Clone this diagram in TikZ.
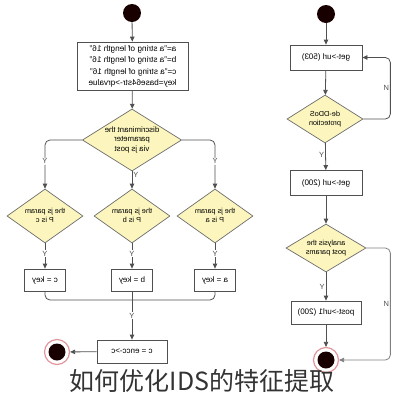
\documentclass[tikz,border=0pt]{standalone}
\usepackage{fontspec}
\usepackage{graphicx}
\setmainfont{Liberation Sans}
\newfontfamily\cjk{Noto Sans CJK SC}
\usetikzlibrary{shapes.geometric,arrows.meta,positioning}

\definecolor{choicefill}{RGB}{252,246,190}
\definecolor{linegray}{RGB}{80,80,80}
\definecolor{ringpink}{RGB}{226,150,155}

% mirrored text, as the reference prints it
\newcommand{\mir}[1]{\reflectbox{\begin{tabular}{@{}c@{}}#1\end{tabular}}}
\newcommand{\mirl}[1]{\reflectbox{\begin{tabular}{@{}l@{}}#1\end{tabular}}}

\tikzset{
  box/.style={draw=linegray, fill=white, line width=0.8pt, inner sep=1pt,
    minimum width=72pt, minimum height=25pt, font=\fontsize{8}{10}\selectfont},
  choice/.style={diamond, draw=gray!85!black, fill=choicefill, line width=0.7pt,
    inner sep=0pt, aspect=1.4, font=\fontsize{7.3}{8.8}\selectfont},
  startdot/.style={circle, fill=black!90!red, minimum size=18pt, inner sep=0pt},
  enddot/.style={circle, draw=ringpink, line width=1.2pt, fill=white,
    minimum size=25pt, inner sep=0pt,
    path picture={\fill[black!90!red] (path picture bounding box.center) circle (8.5pt);}},
  flow/.style={draw=linegray, line width=0.8pt, -{Triangle[length=5pt,width=4.5pt]}},
  line/.style={draw=linegray, line width=0.8pt},
  ylbl/.style={font=\fontsize{7.5}{8}\selectfont, text=black!70, inner sep=1pt},
}

\begin{document}
\begin{tikzpicture}[x=1pt,y=-1pt]
\useasboundingbox (0,0) rectangle (405,400);

% left chart
\node[startdot] (ls) at (132,13) {};
\node[box, minimum width=111pt, minimum height=48pt,
  font=\fontsize{8.2}{11.5}\selectfont] (vars) at (132.5,66)
  {\mirl{a="a string of length 16"\\b="a string of length 16"\\c="a string of length 16"\\key=base64str->qrvalue}};
\node[choice, minimum width=96pt, minimum height=60pt, aspect=1.6,
  font=\fontsize{7.8}{9.3}\selectfont] (disc) at (132,140)
  {\mir{discriminant the\\parameter\\via js post}};
\node[choice, minimum width=76pt, minimum height=54pt] (pc) at (45,216) {\mir{the js param\\P is c}};
\node[choice, minimum width=76pt, minimum height=54pt] (pb) at (132,216) {\mir{the js param\\P is b}};
\node[choice, minimum width=76pt, minimum height=54pt] (pa) at (215,216) {\mir{the js param\\P is a}};
\node[box, minimum width=41pt, minimum height=22pt] (kc) at (45,280) {\mir{c = key}};
\node[box, minimum width=41pt, minimum height=22pt] (kb) at (132,280) {\mir{b = key}};
\node[box, minimum width=41pt, minimum height=22pt] (ka) at (215,280) {\mir{a = key}};
\coordinate (mrg) at (132,300);
\node[box, minimum width=70pt, minimum height=23pt] (enc) at (132,351.5) {\mir{c = encc->c}};
\node[enddot] (le) at (57,352) {};

\draw[flow] (ls) -- (vars);
\draw[flow] (vars) -- (disc);
\draw[flow, rounded corners=5pt] (disc.west) -| node[ylbl, fill=white, pos=0.72] {Y} (pc.north);
\draw[flow] (disc) -- node[ylbl, right, pos=0.2] {Y} (pb);
\draw[flow, rounded corners=5pt] (disc.east) -| node[ylbl, fill=white, pos=0.72] {Y} (pa.north);
\draw[flow] (pc) -- node[ylbl, fill=white, pos=0.4] {Y} (kc);
\draw[flow] (pb) -- node[ylbl, fill=white, pos=0.4] {Y} (kb);
\draw[flow] (pa) -- node[ylbl, fill=white, pos=0.4] {Y} (ka);
\draw[line, rounded corners=5pt] (kc.south) |- (mrg) -| (ka.south);
\draw[line] (kb) -- (mrg);
\draw[flow] (mrg) -- node[ylbl, fill=white, pos=0.4] {Y} (enc);
\draw[flow] (enc) -- (le);

% right chart
\node[startdot] (rs) at (326,14) {};
\node[box] (g503) at (326,57.5) {\mir{get->url (503)}};
\node[choice, minimum width=76pt, minimum height=48pt] (ddos) at (325,119) {\mir{de-DDoS\\protection}};
\node[box] (g200) at (326,183) {\mir{get->url (200)}};
\node[choice, minimum width=80pt, minimum height=48pt] (ana) at (326,248) {\mir{analysis the\\post params}};
\node[box, minimum width=70pt, minimum height=23pt] (post) at (326,312.5) {\mir{post->url1 (200)}};
\node[enddot] (re) at (326,360) {};

\draw[flow] (rs) -- (g503);
\draw[flow] (g503) -- (ddos);
\draw[flow] (ddos) -- node[ylbl, left, pos=0.45] {Y} (g200);
\draw[flow] (g200) -- (ana);
\draw[flow] (ana) -- node[ylbl, left, pos=0.5] {Y} (post);
\draw[flow] (post) -- (re);
\draw[flow, rounded corners=5pt] (ddos.east) -- ++(27,0) |- node[ylbl, left, pos=0.25] {N} (g503.east);
\draw[flow, draw=gray, rounded corners=5pt] (ana.east) -- ++(24,0) |- node[ylbl, left, pos=0.25] {N} (re.east);

% caption
\node[font=\cjk\fontsize{25}{25}\selectfont, text=black!80] (cap) at (202,381) {如何优化IDS的特征提取};
\end{tikzpicture}
\end{document}
